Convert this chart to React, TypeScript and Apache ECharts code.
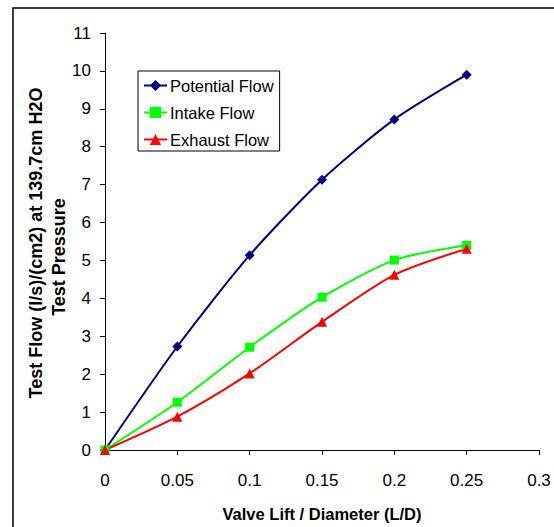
import React, { useEffect, useRef } from "react";
import * as echarts from "echarts";

const xValues = [0, 0.05, 0.1, 0.15, 0.2, 0.25];
const potentialFlow = [0, 2.73, 5.14, 7.13, 8.72, 9.9];
const intakeFlow = [0, 1.26, 2.71, 4.03, 5.01, 5.4];
const exhaustFlow = [0, 0.88, 2.02, 3.38, 4.62, 5.31];
const seriesNames = ["Potential Flow", "Intake Flow", "Exhaust Flow"];
const yTitle1 = "Test Flow (l/s)/(cm2) at 139.7cm H2O";
const yTitle2 = "Test Pressure";
const xTitle = "Valve Lift / Diameter (L/D)";

const FONT = "Liberation Sans, Arial, sans-serif";

function pairs(ys: number[]) {
  return xValues.map((x, i) => [x, ys[i]]);
}

export default function App() {
  const ref = useRef<HTMLDivElement>(null);
  useEffect(() => {
    if (!ref.current) return;
    const chart = echarts.init(ref.current, undefined, { renderer: "svg" });
    const mk = (name: string, data: number[], color: string, symbol: string, size: number) => ({
      name,
      type: "line",
      data: pairs(data),
      smooth: 0.25,
      symbol,
      symbolSize: size,
      lineStyle: { color, width: 2 },
      itemStyle: { color },
      z: 3,
    });
    chart.setOption({
      animation: false,
      backgroundColor: "#fff",
      textStyle: { fontFamily: FONT },
      grid: { left: 105, top: 33, right: 15, bottom: 72, containLabel: false },
      legend: {
        orient: "vertical",
        left: 138,
        top: 71,
        padding: [6, 6, 3, 5],
        borderColor: "#000",
        borderWidth: 1,
        itemWidth: 23,
        itemHeight: 14,
        itemGap: 10,
        textStyle: { fontFamily: FONT, fontSize: 16.5, color: "#000", padding: [0, 0, 0, -2] },
        data: seriesNames,
      },
      xAxis: {
        type: "value",
        min: 0,
        max: 0.3,
        interval: 0.05,
        name: xTitle,
        nameLocation: "middle",
        nameGap: 55,
        nameTextStyle: { fontFamily: FONT, fontSize: 16.5, fontWeight: "bold", color: "#000" },
        axisLine: { show: true, onZero: false, lineStyle: { color: "#000", width: 1 } },
        axisTick: { show: true, length: 5, lineStyle: { color: "#000" } },
        axisLabel: {
          fontFamily: FONT,
          fontSize: 17,
          color: "#000",
          margin: 22,
          formatter: (v: number) => String(+v.toFixed(2)),
        },
        splitLine: { show: false },
      },
      yAxis: {
        type: "value",
        min: 0,
        max: 11,
        interval: 1,
        axisLine: { show: true, lineStyle: { color: "#000", width: 1 } },
        axisTick: { show: true, length: 5, lineStyle: { color: "#000" } },
        axisLabel: { fontFamily: FONT, fontSize: 17, color: "#000", margin: 14 },
        splitLine: { show: false },
      },
      graphic: [
        {
          type: "rect",
          shape: { x: 13, y: 8, width: 700, height: 700 },
          style: { fill: "none", stroke: "#000", lineWidth: 1.5 },
          silent: true,
        },
        {
          type: "text",
          x: 36,
          y: 243,
          rotation: Math.PI / 2,
          style: {
            text: yTitle1,
            fontFamily: FONT,
            fontSize: 18,
            fontWeight: "bold",
            fill: "#000",
            align: "center",
            verticalAlign: "middle",
          },
        },
        {
          type: "text",
          x: 59,
          y: 257,
          rotation: Math.PI / 2,
          style: {
            text: yTitle2,
            fontFamily: FONT,
            fontSize: 18,
            fontWeight: "bold",
            fill: "#000",
            align: "center",
            verticalAlign: "middle",
          },
        },
      ],
      series: [
        mk(seriesNames[0], potentialFlow, "#000080", "diamond", 10),
        mk(seriesNames[1], intakeFlow, "#00ff00", "rect", 9),
        mk(seriesNames[2], exhaustFlow, "#ff0000", "triangle", 10),
      ],
    });
    return () => chart.dispose();
  }, []);
  return (
    <div
      ref={ref}
      style={{ position: "fixed", left: 0, top: 0, width: 554, height: 527 }}
    />
  );
}
